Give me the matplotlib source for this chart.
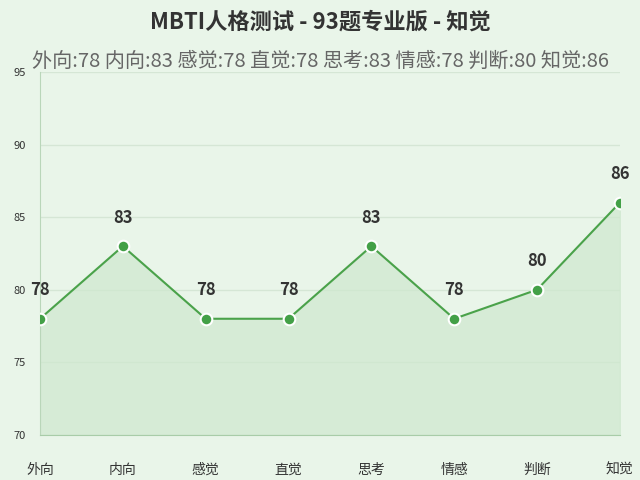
import matplotlib
matplotlib.use("Agg")
import matplotlib.pyplot as plt

plt.rcParams['font.family'] = ['Noto Sans CJK SC', 'DejaVu Sans']

categories = ["外向", "内向", "感觉", "直觉", "思考", "情感", "判断", "知觉"]
values = [78, 83, 78, 78, 83, 78, 80, 86]
title = "MBTI人格测试 - 93题专业版 - 知觉"
subtitle = "外向:78 内向:83 感觉:78 直觉:78 思考:83 情感:78 判断:80 知觉:86"

bg = "#e9f5e9"
fig = plt.figure(figsize=(6.4, 4.8), dpi=100, facecolor=bg)
ax = fig.add_axes([0.0625, 0.094, 0.906, 0.756], facecolor=bg)
x = list(range(len(categories)))
ax.fill_between(x, values, 70, color="#cfe8cf", alpha=0.7, zorder=1)
ax.plot(x, values, color="#4aa24a", lw=1.5, zorder=2)
ax.scatter(x, values, s=70, color="#43a047", edgecolor="white", linewidth=1.5, zorder=3)
for xi, v in zip(x, values):
    ax.annotate(str(v), (xi, v), xytext=(0, 14), textcoords="offset points",
                ha="center", va="bottom", fontsize=12, fontweight="bold", color="#333333")
ax.set_xlim(0, len(categories) - 1)
ax.set_ylim(70, 95)
ax.set_yticks([70, 75, 80, 85, 90, 95])
ax.set_xticks(x)
ax.set_xticklabels(categories, fontsize=10, color="#333333")
ax.tick_params(axis='x', length=0, pad=20)
ax.tick_params(axis='y', length=0, labelsize=8, colors="#333333", pad=10)
ax.grid(axis='y', color="#d5e6d5", lw=1)
ax.set_axisbelow(True)
for s in ["top", "right"]:
    ax.spines[s].set_visible(False)
ax.spines["left"].set_color("#b9d6b9")
ax.spines["bottom"].set_color("#a8cca8")
fig.text(0.5, 0.953, title, ha="center", va="center", fontsize=16, fontweight="bold", color="#333333")
fig.text(0.5, 0.873, subtitle, ha="center", va="center", fontsize=14.5, color="#666666")
fig.savefig("out.png", dpi=100, facecolor=bg)
